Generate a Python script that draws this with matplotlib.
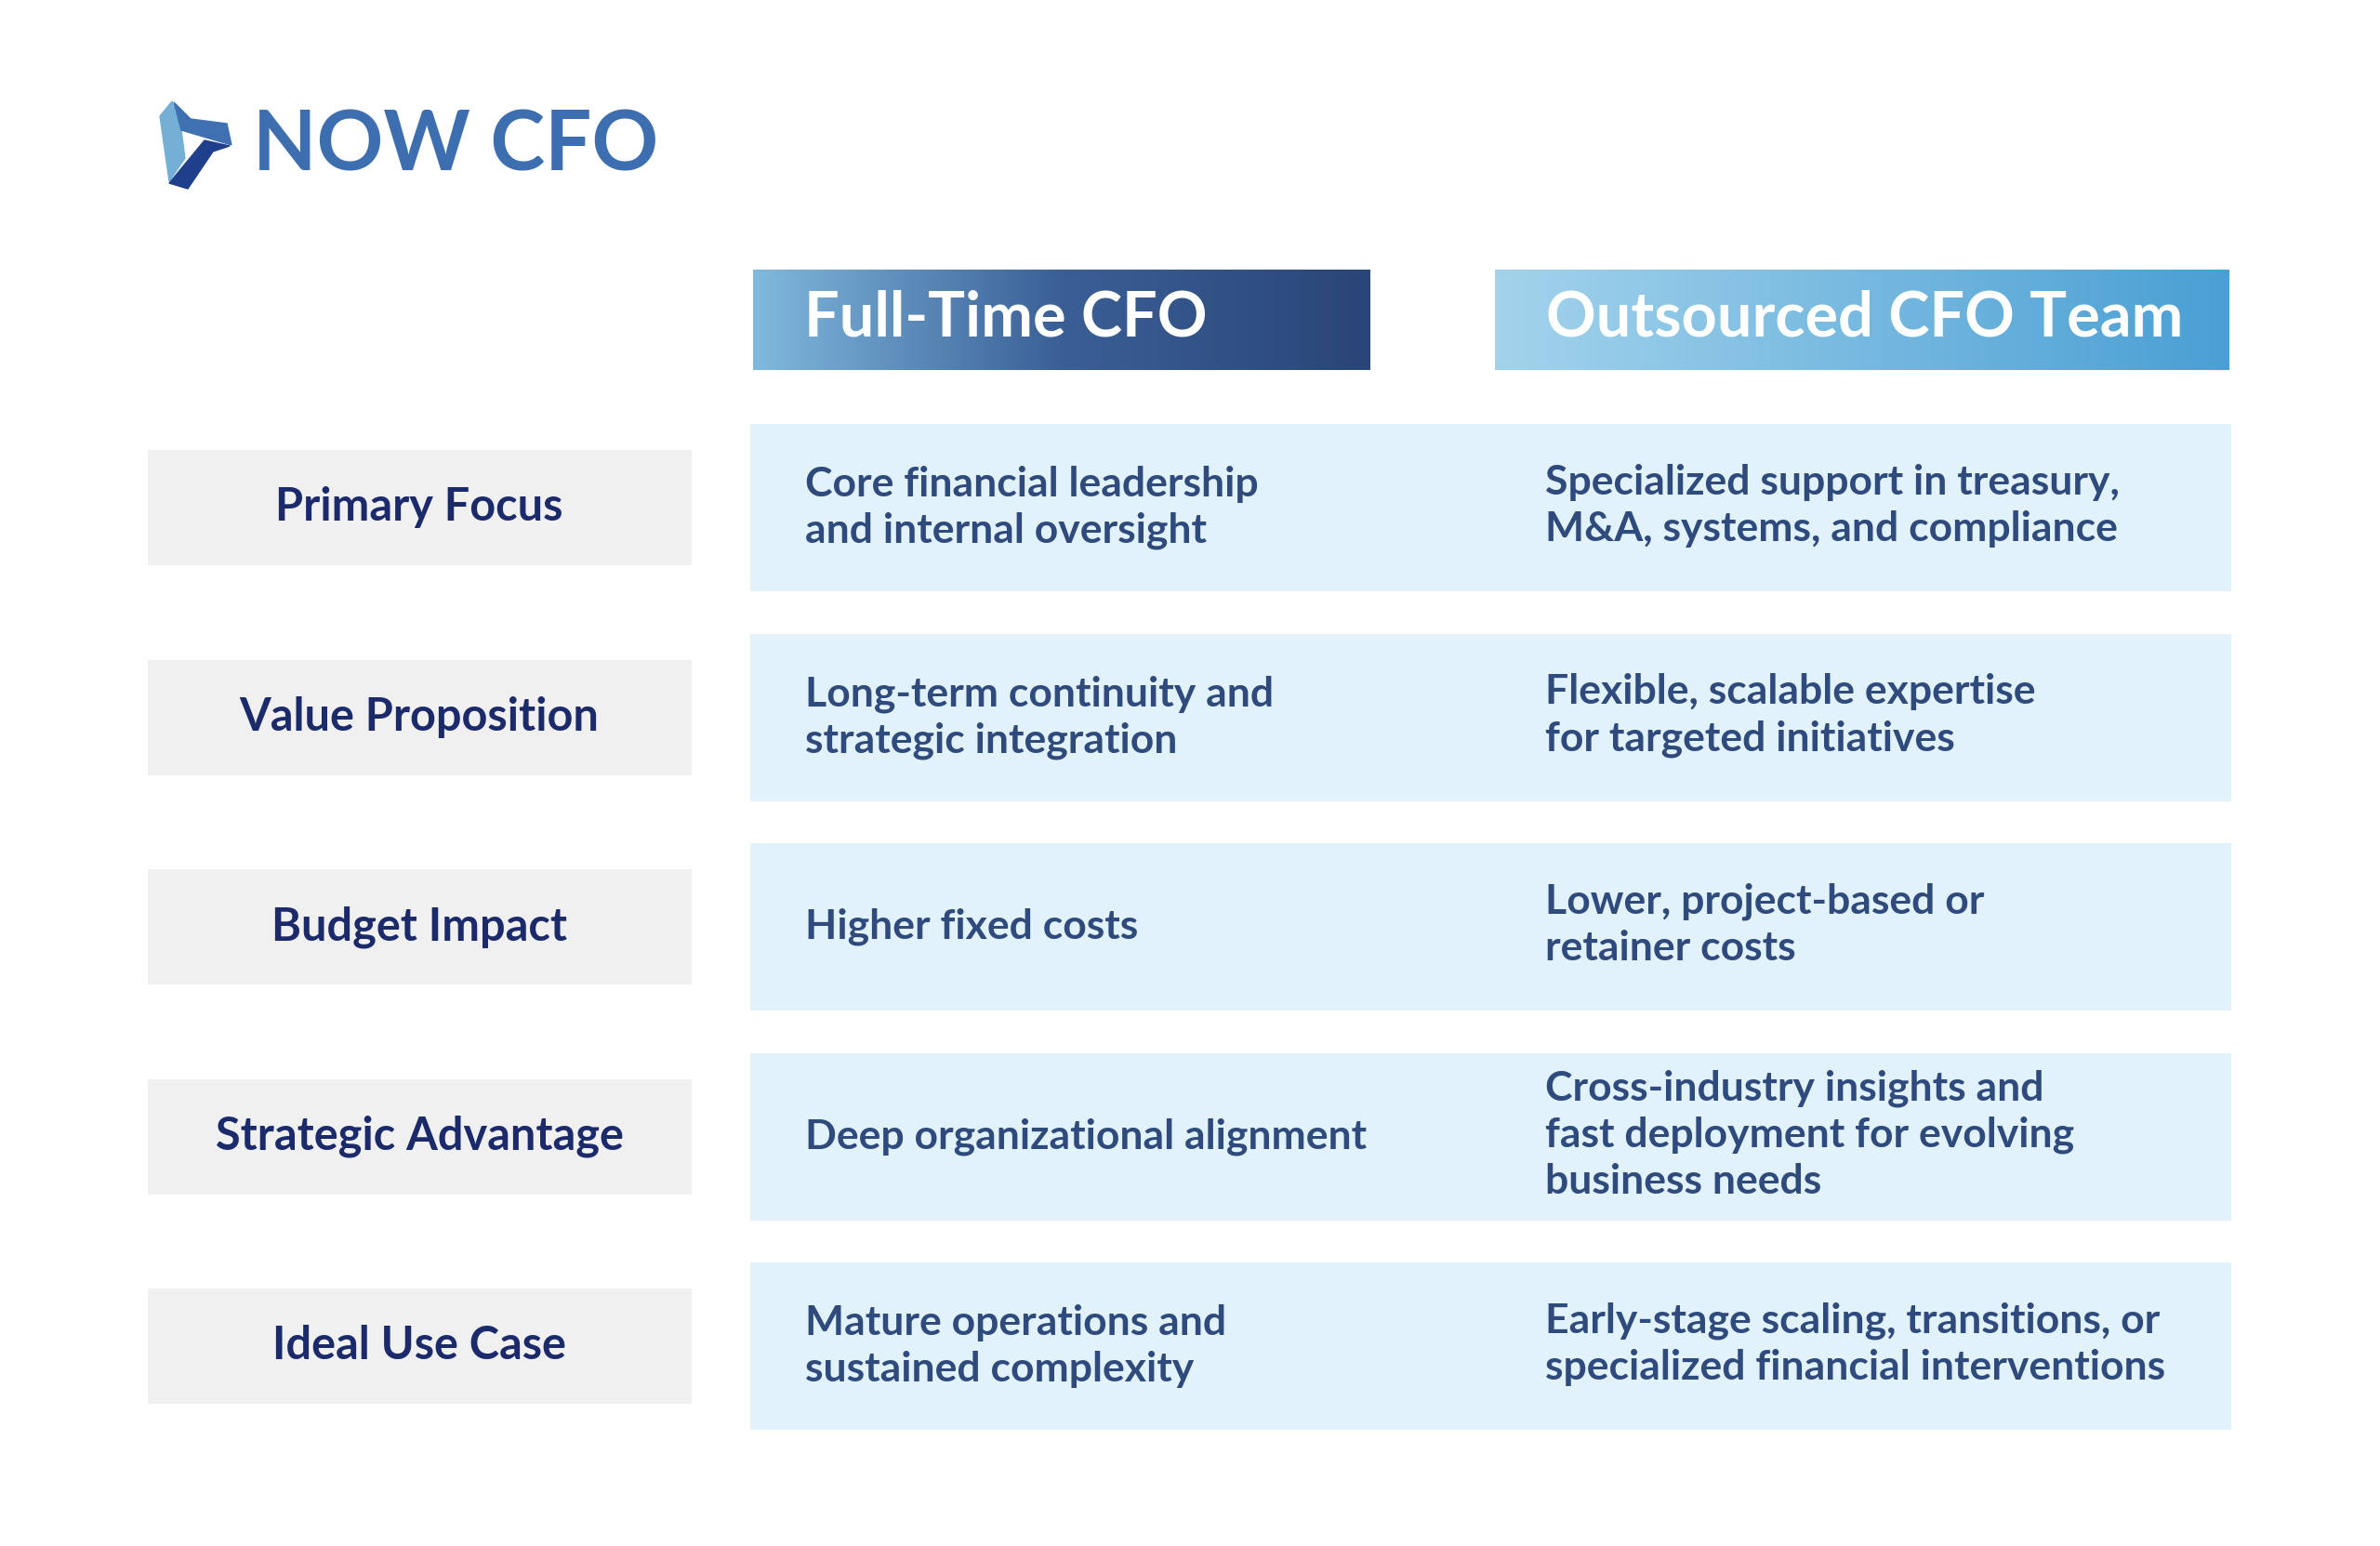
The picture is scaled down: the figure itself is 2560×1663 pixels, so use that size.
import numpy as np
import matplotlib
matplotlib.use("Agg")
import matplotlib.pyplot as plt
from matplotlib.patches import Rectangle
from matplotlib.colors import LinearSegmentedColormap

# ---- data ----
columns = ["Full-Time CFO", "Outsourced CFO Team"]
row_labels = ["Primary Focus", "Value Proposition", "Budget Impact",
              "Strategic Advantage", "Ideal Use Case"]
fulltime_text = [
    "Core financial leadership\nand internal oversight",
    "Long-term continuity and\nstrategic integration",
    "Higher fixed costs",
    "Deep organizational alignment",
    "Mature operations and\nsustained complexity",
]
outsourced_text = [
    "Specialized support in treasury,\nM&A, systems, and compliance",
    "Flexible, scalable expertise\nfor targeted initiatives",
    "Lower, project-based or\nretainer costs",
    "Cross-industry insights and\nfast deployment for evolving\nbusiness needs",
    "Early-stage scaling, transitions, or\nspecialized financial interventions",
]

W, H = 2560, 1663
NAVY = "#1b2a6b"
BODY = "#2f4a7c"
FONT = "Lato"

fig = plt.figure(figsize=(W / 100, H / 100), dpi=100)
ax = fig.add_axes([0, 0, 1, 1])
ax.set_xlim(0, W); ax.set_ylim(H, 0); ax.axis("off")

# ---- logo ----
ax.fill([172, 185, 195, 199, 182], [125, 109, 140, 170, 195], color="#74afd6")
ax.fill([187, 205, 244, 249, 195], [110, 128, 133, 156, 140], color="#3f70b1")
ax.fill([220, 247, 229, 202, 182], [151, 157, 163, 203, 197], color="#1f3f8c")
ax.text(272, 157, "NOW CFO", fontsize=64, fontweight="bold", family=FONT,
        color="#3d6fb0", va="center", ha="left")

# ---- column headers with gradients ----
headers = [(810, 1474, ["#80b9de", "#3a5f96", "#2a4577"]),
           (1608, 2398, ["#a3d3ec", "#4a9fd4"])]
grad = np.linspace(0, 1, 256).reshape(1, -1)
for (x0, x1, cols), name in zip(headers, columns):
    cmap = LinearSegmentedColormap.from_list("g", cols)
    ax.imshow(grad, cmap=cmap, extent=[x0, x1, 398, 290], aspect="auto", zorder=1)
    ax.text(x0 + 55, 342, name, fontsize=48, fontweight="bold", family=FONT,
            color="white", va="center", ha="left", zorder=2)
ax.set_xlim(0, W); ax.set_ylim(H, 0)

# ---- rows ----
row_top = 456
row_h = 180
row_step = 225.5
for i, lab in enumerate(row_labels):
    y0 = row_top + i * row_step
    yc = y0 + row_h / 2
    ax.add_patch(Rectangle((807, y0), 2400 - 807, row_h, color="#e2f2fb", lw=0))
    ax.add_patch(Rectangle((159, yc - 62), 744 - 159, 124, color="#f0f0f0", lw=0))
    ax.text(451, yc, lab, fontsize=35, fontweight="bold", family=FONT,
            color=NAVY, va="center", ha="center")
    ax.text(866, yc, fulltime_text[i], fontsize=32, fontweight="bold", family=FONT,
            color=BODY, va="center", ha="left", linespacing=1.3)
    ax.text(1662, yc - 2, outsourced_text[i], fontsize=32, fontweight="bold",
            family=FONT, color=BODY, va="center", ha="left", linespacing=1.3)

fig.savefig("out.png", dpi=100, facecolor="white")
